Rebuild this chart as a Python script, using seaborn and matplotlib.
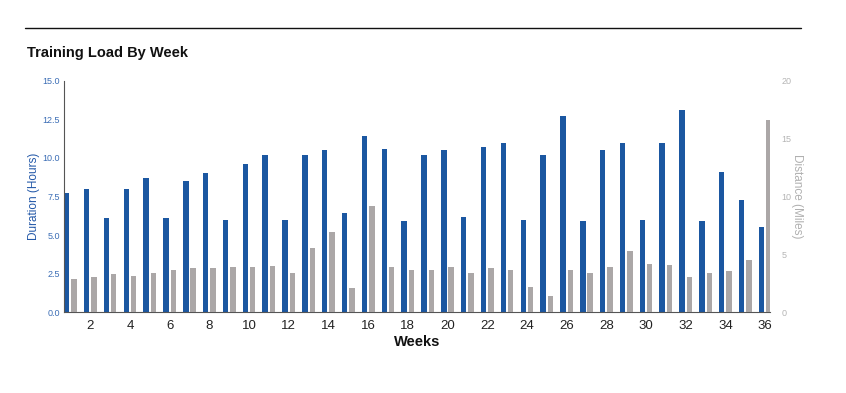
import matplotlib
matplotlib.use("Agg")
import matplotlib.pyplot as plt
import pandas as pd
import seaborn as sns

weeks = list(range(1, 37))
duration_hours = [7.7, 8.0, 6.1, 8.0, 8.7, 6.1, 8.5, 9.0, 6.0, 9.6,
                  10.2, 6.0, 10.2, 10.5, 6.4, 11.4, 10.6, 5.9, 10.2, 10.5,
                  6.2, 10.7, 11.0, 6.0, 10.2, 12.7, 5.9, 10.5, 11.0, 6.0,
                  11.0, 13.1, 5.9, 9.1, 7.3, 5.5]
distance_miles = [2.9, 3.0, 3.3, 3.1, 3.35, 3.65, 3.8, 3.8, 3.9, 3.9,
                  3.95, 3.4, 5.5, 6.9, 2.05, 9.15, 3.9, 3.6, 3.6, 3.9,
                  3.4, 3.8, 3.65, 2.2, 1.35, 3.6, 3.4, 3.9, 5.3, 4.2,
                  4.05, 3.0, 3.35, 3.55, 4.5, 16.6]
series_order = ["Duration", "Distance"]

BLUE = "#1b57a1"
GREY = "#aba7a7"

dur = pd.DataFrame({"week": weeks, "value": duration_hours, "series": "Duration"})
dist = pd.DataFrame({"week": weeks, "value": distance_miles, "series": "Distance"})
palette = {"Duration": BLUE, "Distance": GREY}

sns.set_style("white")
plt.rcParams["font.family"] = ["Liberation Sans", "DejaVu Sans"]

fig = plt.figure(figsize=(8.46, 3.93), dpi=100)
ax = fig.add_axes([0.0757, 0.206, 0.835, 0.588])
ax2 = ax.twinx()

bar_kw = dict(x="week", y="value", hue="series", hue_order=series_order,
              palette=palette, dodge=True, native_scale=True, width=0.74,
              gap=0.26, legend=False, saturation=1, linewidth=0)
sns.barplot(data=dur, ax=ax, **bar_kw)
sns.barplot(data=dist, ax=ax2, **bar_kw)

ax.set_xlim(0.68, 36.27)
ax.set_xticks(range(2, 37, 2))
ax.set_xticklabels([str(w) for w in range(2, 37, 2)], fontsize=9.5, color="#222222")
ax.set_ylim(0, 15)
ax.set_yticks([0, 2.5, 5, 7.5, 10, 12.5, 15])
ax.set_yticklabels(["0.0", "2.5", "5.0", "7.5", "10.0", "12.5", "15.0"],
                   fontsize=6.5, color="#3b6db5")
ax2.set_ylim(0, 20)
ax2.set_yticks([0, 5, 10, 15, 20])
ax2.set_yticklabels(["0", "5", "10", "15", "20"], fontsize=6.5, color="#b5b5b5")

ax.set_xlabel("Weeks", fontsize=10.5, fontweight="bold", color="#111111", labelpad=2)
ax.set_ylabel("Duration (Hours)", fontsize=8.5, color="#2358a8", labelpad=2)
ax2.set_ylabel("Distance (Miles)", fontsize=8.5, color="#b0b0b0", rotation=270, labelpad=8)

ax.tick_params(axis="y", length=0, pad=3)
ax.tick_params(axis="x", length=0, pad=6)
ax2.tick_params(axis="both", length=0, pad=8)
for a in (ax, ax2):
    a.spines["top"].set_visible(False)
    a.spines["right"].set_visible(False)
    a.grid(False)
ax2.spines["left"].set_visible(False)
ax2.spines["bottom"].set_visible(False)
ax.spines["left"].set_color("#555555")
ax.spines["bottom"].set_color("#555555")

fig.text(0.032, 0.865, "Training Load By Week", fontsize=10.5, fontweight="bold",
         color="#111111", va="center")
fig.add_artist(plt.Line2D([0.030, 0.947], [0.928, 0.928], color="#111111", lw=1.0))

fig.savefig("out.png", dpi=100)
plt.close(fig)
